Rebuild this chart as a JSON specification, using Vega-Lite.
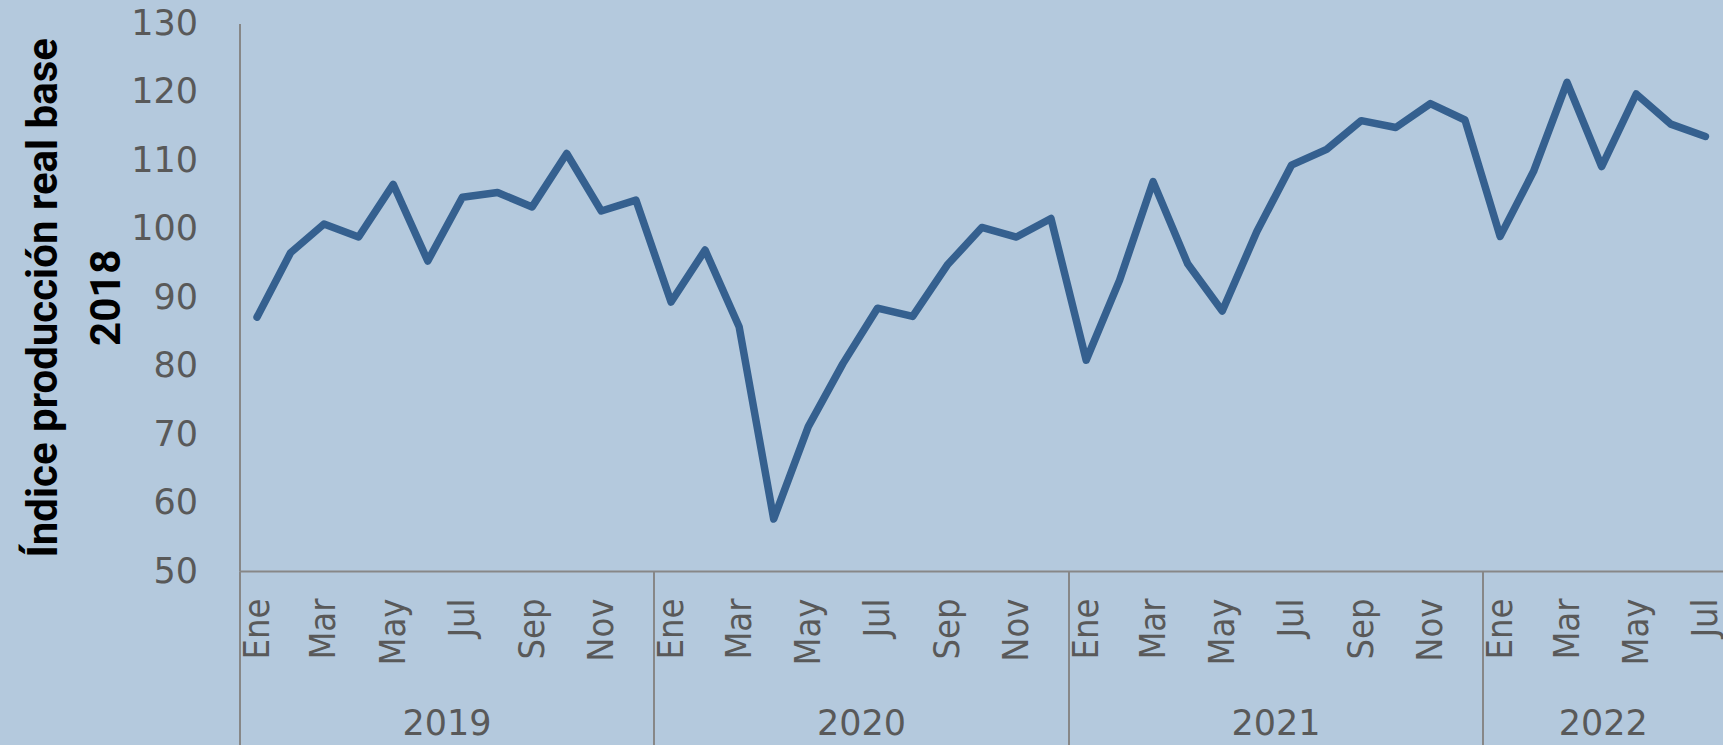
{
  "$schema": "https://vega.github.io/schema/vega-lite/v6.json",
  "width": 1483.5,
  "height": 547.5,
  "autosize": {"type": "none"},
  "padding": {"left": 239.5, "top": 23.5, "right": 0, "bottom": 174},
  "background": "#B4C9DD",
  "config": {"view": {"stroke": null}, "axis": {"grid": false}},
  "data": {
    "values": [
      {"fecha": "2019-01-01", "valor": 87.1},
      {"fecha": "2019-02-01", "valor": 96.5},
      {"fecha": "2019-03-01", "valor": 100.7},
      {"fecha": "2019-04-01", "valor": 98.8},
      {"fecha": "2019-05-01", "valor": 106.5},
      {"fecha": "2019-06-01", "valor": 95.3},
      {"fecha": "2019-07-01", "valor": 104.6},
      {"fecha": "2019-08-01", "valor": 105.3},
      {"fecha": "2019-09-01", "valor": 103.2},
      {"fecha": "2019-10-01", "valor": 111.0},
      {"fecha": "2019-11-01", "valor": 102.6},
      {"fecha": "2019-12-01", "valor": 104.2},
      {"fecha": "2020-01-01", "valor": 89.3},
      {"fecha": "2020-02-01", "valor": 96.9},
      {"fecha": "2020-03-01", "valor": 85.7},
      {"fecha": "2020-04-01", "valor": 57.6},
      {"fecha": "2020-05-01", "valor": 71.1},
      {"fecha": "2020-06-01", "valor": 80.3},
      {"fecha": "2020-07-01", "valor": 88.4},
      {"fecha": "2020-08-01", "valor": 87.2},
      {"fecha": "2020-09-01", "valor": 94.7},
      {"fecha": "2020-10-01", "valor": 100.2},
      {"fecha": "2020-11-01", "valor": 98.8},
      {"fecha": "2020-12-01", "valor": 101.5},
      {"fecha": "2021-01-01", "valor": 80.8},
      {"fecha": "2021-02-01", "valor": 92.5},
      {"fecha": "2021-03-01", "valor": 106.9},
      {"fecha": "2021-04-01", "valor": 94.9},
      {"fecha": "2021-05-01", "valor": 88.0},
      {"fecha": "2021-06-01", "valor": 99.6},
      {"fecha": "2021-07-01", "valor": 109.3},
      {"fecha": "2021-08-01", "valor": 111.6},
      {"fecha": "2021-09-01", "valor": 115.8},
      {"fecha": "2021-10-01", "valor": 114.8},
      {"fecha": "2021-11-01", "valor": 118.3},
      {"fecha": "2021-12-01", "valor": 115.9},
      {"fecha": "2022-01-01", "valor": 98.9},
      {"fecha": "2022-02-01", "valor": 108.4},
      {"fecha": "2022-03-01", "valor": 121.4},
      {"fecha": "2022-04-01", "valor": 109.1},
      {"fecha": "2022-05-01", "valor": 119.7},
      {"fecha": "2022-06-01", "valor": 115.3},
      {"fecha": "2022-07-01", "valor": 113.5}
    ]
  },
  "layer": [
    {
      "mark": {"type": "line", "color": "#35608F", "strokeWidth": 7.5, "strokeJoin": "round", "strokeCap": "round"},
      "encoding": {
        "x": {
          "field": "fecha", "type": "temporal", "timeUnit": "utcyearmonth", "bandPosition": 0.5,
          "scale": {"domain": [{"year": 2019, "month": 1, "date": 1, "utc": true}, {"year": 2022, "month": 8, "date": 1, "utc": true}], "nice": false},
          "axis": {
            "orient": "bottom", "title": null, "grid": false,
            "values": [
              {"year": 2019, "month": 1, "date": 16, "hours": 12, "utc": true},
              {"year": 2019, "month": 3, "date": 16, "hours": 12, "utc": true},
              {"year": 2019, "month": 5, "date": 16, "hours": 12, "utc": true},
              {"year": 2019, "month": 7, "date": 16, "hours": 12, "utc": true},
              {"year": 2019, "month": 9, "date": 16, "utc": true},
              {"year": 2019, "month": 11, "date": 16, "utc": true},
              {"year": 2020, "month": 1, "date": 16, "hours": 12, "utc": true},
              {"year": 2020, "month": 3, "date": 16, "hours": 12, "utc": true},
              {"year": 2020, "month": 5, "date": 16, "hours": 12, "utc": true},
              {"year": 2020, "month": 7, "date": 16, "hours": 12, "utc": true},
              {"year": 2020, "month": 9, "date": 16, "utc": true},
              {"year": 2020, "month": 11, "date": 16, "utc": true},
              {"year": 2021, "month": 1, "date": 16, "hours": 12, "utc": true},
              {"year": 2021, "month": 3, "date": 16, "hours": 12, "utc": true},
              {"year": 2021, "month": 5, "date": 16, "hours": 12, "utc": true},
              {"year": 2021, "month": 7, "date": 16, "hours": 12, "utc": true},
              {"year": 2021, "month": 9, "date": 16, "utc": true},
              {"year": 2021, "month": 11, "date": 16, "utc": true},
              {"year": 2022, "month": 1, "date": 16, "hours": 12, "utc": true},
              {"year": 2022, "month": 3, "date": 16, "hours": 12, "utc": true},
              {"year": 2022, "month": 5, "date": 16, "hours": 12, "utc": true},
              {"year": 2022, "month": 7, "date": 16, "hours": 12, "utc": true}
            ],
            "labelExpr": "['Ene','Feb','Mar','Abr','May','Jun','Jul','Ago','Sep','Oct','Nov','Dic'][utcmonth(datum.value)]",
            "labelAngle": -90, "labelAlign": "right", "labelBaseline": "middle",
            "labelPadding": 27, "labelFont": "DejaVu Sans Condensed, sans-serif", "labelFontSize": 36,
            "labelColor": "#595959", "labelFlush": false, "labelOverlap": false,
            "ticks": false, "domain": true, "domainColor": "#878787", "domainWidth": 2
          }
        },
        "y": {
          "field": "valor", "type": "quantitative",
          "scale": {"domain": [50, 130], "nice": false, "zero": false},
          "axis": {
            "values": [50, 60, 70, 80, 90, 100, 110, 120, 130],
            "title": ["Índice producción real base", "2018"],
            "titleFont": "Roboto", "titleFontWeight": "bold", "titleFontSize": 42, "titleColor": "#000000",
            "titleLineHeight": 63, "titlePadding": 2,
            "labelFont": "DejaVu Sans", "labelFontSize": 35, "labelColor": "#595959", "labelPadding": 42,
            "labelFlush": false, "labelOverlap": false,
            "ticks": false, "grid": false, "domain": true, "domainColor": "#878787", "domainWidth": 2
          }
        }
      }
    },
    {
      "mark": {"type": "rule", "opacity": 0},
      "encoding": {
        "x": {
          "field": "fecha", "type": "temporal", "timeUnit": "utcyearmonth", "bandPosition": 0.5,
          "axis": {
            "orient": "bottom", "title": null, "grid": false,
            "values": [
              {"year": 2019, "month": 7, "date": 2, "hours": 12, "utc": true},
              {"year": 2020, "month": 7, "date": 2, "utc": true},
              {"year": 2021, "month": 7, "date": 2, "hours": 12, "utc": true},
              {"year": 2022, "month": 4, "date": 17, "utc": true}
            ],
            "labelExpr": "utcyear(datum.value)",
            "labelAngle": 0, "labelAlign": "center", "labelBaseline": "top",
            "labelPadding": 135, "labelFont": "DejaVu Sans", "labelFontSize": 35, "labelColor": "#595959",
            "labelFlush": false, "labelOverlap": false,
            "ticks": false, "domain": false
          }
        }
      }
    },
    {
      "mark": {"type": "rule", "opacity": 0},
      "encoding": {
        "x": {
          "field": "fecha", "type": "temporal", "timeUnit": "utcyearmonth", "bandPosition": 0.5,
          "axis": {
            "orient": "bottom", "title": null, "grid": false,
            "values": [
              {"year": 2019, "month": 1, "date": 1, "utc": true},
              {"year": 2020, "month": 1, "date": 1, "utc": true},
              {"year": 2021, "month": 1, "date": 1, "utc": true},
              {"year": 2022, "month": 1, "date": 1, "utc": true},
              {"year": 2022, "month": 8, "date": 1, "utc": true}
            ],
            "labels": false, "domain": false,
            "ticks": true, "tickSize": 175, "tickColor": "#878787", "tickWidth": 2
          }
        }
      }
    }
  ],
  "resolve": {"axis": {"x": "independent"}}
}
